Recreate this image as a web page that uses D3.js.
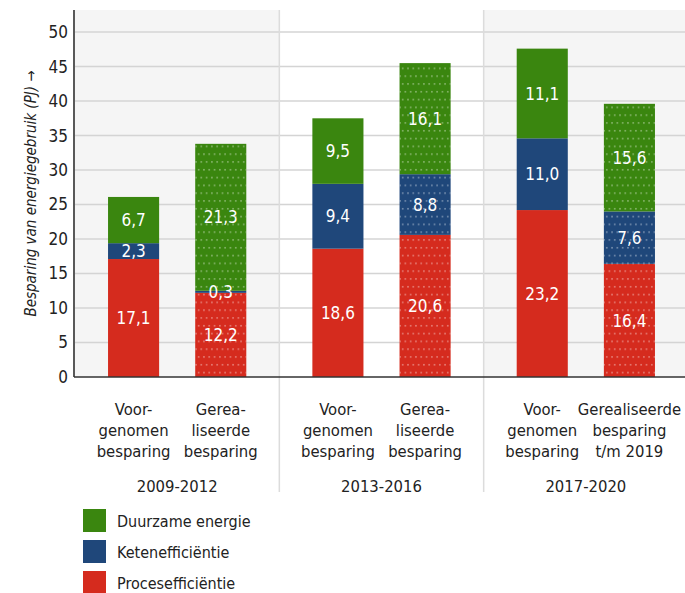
<!DOCTYPE html>
<html>
<head>
<meta charset="utf-8">
<script src="https://cdn.jsdelivr.net/npm/d3@7"></script>
<style>
  body { margin: 0; background: #fff; }
  svg text { font-family: "Liberation Sans Narrow", "DejaVu Sans Condensed", "Open Sans", sans-serif; }
</style>
</head>
<body>
<div id="chart"></div>
<script>
// periods and bars per period
const periods = ["2009-2012", "2013-2016", "2017-2020"];
const barKeys = ["voor", "real"];
const barLabels = [
    [["Voor-", "genomen", "besparing"], ["Gerea-", "liseerde", "besparing"]],
    [["Voor-", "genomen", "besparing"], ["Gerea-", "liseerde", "besparing"]],
    [["Voor-", "genomen", "besparing"], ["Gerealiseerde", "besparing", "t/m 2019"]]
];

// series, bottom to top
const seriesNames = ["Procesefficiëntie", "Ketenefficiëntie", "Duurzame energie"];
const seriesColors = ["#d52b1e", "#1f477a", "#3a860f"];

// segment heights as drawn (PJ), one array per series, order: period x bar
const proces   = [17.1, 12.2, 18.6, 20.6, 24.2, 16.4];
const keten    = [2.3, 0.3, 9.4, 8.8, 10.4, 7.6];
const duurzaam = [6.7, 21.3, 9.5, 16.1, 13.0, 15.6];

// printed labels
const procesLabels   = ["17,1", "12,2", "18,6", "20,6", "23,2", "16,4"];
const ketenLabels    = ["2,3", "0,3", "9,4", "8,8", "11,0", "7,6"];
const duurzaamLabels = ["6,7", "21,3", "9,5", "16,1", "11,1", "15,6"];

const yTicks = [0, 5, 10, 15, 20, 25, 30, 35, 40, 45, 50];

const width = 685, height = 593;
const margin = {top: 10, left: 75, right: -3, bottom: 216};
const plotW = width - margin.left - margin.right;
const plotH = height - margin.top - margin.bottom;

const svg = d3.select("#chart").append("svg")
    .attr("width", width)
    .attr("height", height);

const g = svg.append("g")
    .attr("transform", `translate(${margin.left},${margin.top})`);

const xGroup = d3.scaleBand().domain(periods).range([0, plotW]);
const xBar = d3.scaleBand().domain(barKeys).range([0, xGroup.bandwidth()])
    .paddingInner(0.414).paddingOuter(0.379);
const y = d3.scaleLinear().domain([0, 53.2]).range([plotH, 0]);

// dotted pattern for realised bars
const defs = svg.append("defs");
const pat = defs.append("pattern")
    .attr("id", "dots")
    .attr("patternUnits", "userSpaceOnUse")
    .attr("width", 5.3).attr("height", 15.6);
pat.append("rect").attr("x", 1).attr("y", 3).attr("width", 1.5).attr("height", 1.5)
    .attr("fill", "rgba(255,255,255,0.45)");
pat.append("rect").attr("x", 3.65).attr("y", 10.8).attr("width", 1.5).attr("height", 1.5)
    .attr("fill", "rgba(255,255,255,0.45)");

// panel backgrounds
g.selectAll(".panel")
    .data(periods)
    .join("rect")
    .attr("class", "panel")
    .attr("x", d => xGroup(d))
    .attr("y", 0)
    .attr("width", xGroup.bandwidth())
    .attr("height", plotH)
    .attr("fill", (d, i) => i === 1 ? "#ffffff" : "#f5f5f5");

// gridlines
g.selectAll(".grid")
    .data(yTicks.slice(1))
    .join("line")
    .attr("class", "grid")
    .attr("x1", 0).attr("x2", plotW)
    .attr("y1", d => y(d)).attr("y2", d => y(d))
    .attr("stroke", "#d4d4d4")
    .attr("stroke-width", 1.5);

// separators between periods
g.selectAll(".sep")
    .data(periods.slice(1))
    .join("line")
    .attr("class", "sep")
    .attr("x1", d => xGroup(d)).attr("x2", d => xGroup(d))
    .attr("y1", 0).attr("y2", plotH + 115)
    .attr("stroke", "#dcdcdc")
    .attr("stroke-width", 1.5);

// stacked data
const barRows = [];
periods.forEach((p, pi) => {
    barKeys.forEach((k, ki) => {
        const idx = pi * barKeys.length + ki;
        barRows.push({period: p, key: k, idx: idx,
            proces: proces[idx], keten: keten[idx], duurzaam: duurzaam[idx]});
    });
});
const stack = d3.stack().keys(["proces", "keten", "duurzaam"]);
const stacked = stack(barRows);
const labelSets = [procesLabels, ketenLabels, duurzaamLabels];

const barX = d => xGroup(d.data.period) + xBar(d.data.key);

stacked.forEach((layer, li) => {
    const lg = g.append("g").attr("class", "layer");
    lg.selectAll("rect.seg")
        .data(layer)
        .join("rect")
        .attr("class", "seg")
        .attr("x", barX)
        .attr("y", d => y(d[1]))
        .attr("width", xBar.bandwidth())
        .attr("height", d => y(d[0]) - y(d[1]))
        .attr("fill", seriesColors[li]);
    lg.selectAll("rect.dot")
        .data(layer.filter(d => d.data.key === "real"))
        .join("rect")
        .attr("class", "dot")
        .attr("x", barX)
        .attr("y", d => y(d[1]))
        .attr("width", xBar.bandwidth())
        .attr("height", d => y(d[0]) - y(d[1]))
        .attr("fill", "url(#dots)");
});

stacked.forEach((layer, li) => {
    g.selectAll(".lbl" + li)
        .data(layer)
        .join("text")
        .attr("class", "lbl" + li)
        .attr("x", d => barX(d) + xBar.bandwidth() / 2)
        .attr("y", d => (y(d[0]) + y(d[1])) / 2)
        .attr("dy", "0.36em")
        .attr("text-anchor", "middle")
        .attr("fill", "#fff")
        .attr("font-size", "17px")
        .text(d => labelSets[li][d.data.idx]);
});

// axes
const yAxis = g.append("g")
    .call(d3.axisLeft(y).tickValues(yTicks).tickSize(0).tickPadding(7));
yAxis.select(".domain").remove();
yAxis.selectAll("text").attr("font-size", "17px").attr("fill", "#222");

g.append("line")
    .attr("x1", -1).attr("x2", -1)
    .attr("y1", 0).attr("y2", plotH)
    .attr("stroke", "#222").attr("stroke-width", 1.5);
g.append("line")
    .attr("x1", -1).attr("x2", plotW)
    .attr("y1", plotH).attr("y2", plotH)
    .attr("stroke", "#333").attr("stroke-width", 1.5);

// category labels
periods.forEach((p, pi) => {
    barKeys.forEach((k, ki) => {
        const cx = xGroup(p) + xBar(k) + xBar.bandwidth() / 2;
        const t = g.append("text")
            .attr("x", cx)
            .attr("y", plotH + 38)
            .attr("text-anchor", "middle")
            .attr("fill", "#222")
            .attr("font-size", "16.5px");
        barLabels[pi][ki].forEach((line, li) => {
            t.append("tspan").attr("x", cx).attr("dy", li === 0 ? 0 : 21).text(line);
        });
    });
    g.append("text")
        .attr("x", xGroup(p) + xGroup.bandwidth() / 2)
        .attr("y", plotH + 115)
        .attr("text-anchor", "middle")
        .attr("fill", "#222")
        .attr("font-size", "16.5px")
        .text(p);
});

// y title
svg.append("text")
    .attr("transform", `translate(31,${margin.top + plotH / 2}) rotate(-90)`)
    .attr("dy", "0.35em")
    .attr("text-anchor", "middle")
    .attr("font-style", "italic")
    .attr("font-size", "15px")
    .attr("fill", "#222")
    .text("Besparing van energiegebruik (PJ) →");

// legend, top to bottom
const legendOrder = [2, 1, 0];
const legend = svg.append("g").attr("transform", "translate(83,509)");
legendOrder.forEach((si, i) => {
    legend.append("rect")
        .attr("x", 0).attr("y", i * 31)
        .attr("width", 23).attr("height", 23)
        .attr("fill", seriesColors[si]);
    legend.append("text")
        .attr("x", 34).attr("y", i * 31 + 12)
        .attr("dy", "0.35em")
        .attr("fill", "#222")
        .attr("font-size", "16px")
        .text(seriesNames[si]);
});
</script>
</body>
</html>
